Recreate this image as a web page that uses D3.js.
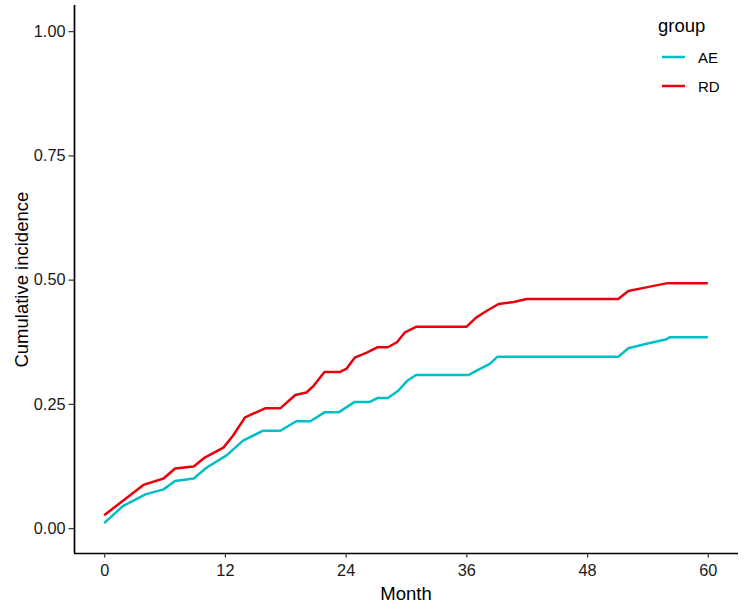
<!DOCTYPE html>
<html>
<head>
<meta charset="utf-8">
<script src="https://cdn.jsdelivr.net/npm/d3@7"></script>
<style>
body { margin: 0; background: #fff; }
svg { display: block; font-family: "Liberation Sans", Arial, sans-serif; }
</style>
</head>
<body>
<svg id="chart" width="744" height="607"></svg>
<script>
// Data
const groups = ["AE", "RD"];
const groupColors = ["#00BFC4", "#E8000B"];
const aeMonth = [0, 1.9, 4.1, 5.9, 7.05, 8.9, 10.2, 12.2, 13.8, 15.8, 17.5, 19.1, 20.5, 21.9, 23.3, 24.9, 26.4, 27.2, 28.2, 29.2, 30.1, 31.0, 36.2, 37.3, 38.3, 39.1, 51.1, 52.1, 53.9, 55.9, 56.2, 60];
const aeValue = [0.010, 0.045, 0.068, 0.078, 0.095, 0.100, 0.122, 0.147, 0.176, 0.196, 0.196, 0.215, 0.215, 0.233, 0.233, 0.254, 0.254, 0.262, 0.262, 0.276, 0.296, 0.308, 0.308, 0.320, 0.330, 0.345, 0.345, 0.362, 0.371, 0.380, 0.384, 0.384];
const rdMonth = [0, 3.9, 5.9, 7.05, 8.9, 10.0, 11.85, 12.8, 14.0, 16.0, 17.5, 19.0, 20.1, 20.8, 21.9, 23.4, 24.1, 24.9, 26.1, 27.2, 28.2, 29.1, 29.9, 31.0, 36.0, 37.0, 38.0, 39.2, 40.7, 42.0, 51.1, 52.1, 54.0, 56.0, 60];
const rdValue = [0.026, 0.087, 0.100, 0.120, 0.124, 0.142, 0.162, 0.186, 0.223, 0.241, 0.241, 0.268, 0.273, 0.286, 0.314, 0.314, 0.321, 0.343, 0.353, 0.364, 0.364, 0.374, 0.394, 0.405, 0.405, 0.424, 0.437, 0.451, 0.455, 0.461, 0.461, 0.477, 0.485, 0.493, 0.493];
const xTicks = [0, 12, 24, 36, 48, 60];
const yTicks = [0, 0.25, 0.5, 0.75, 1];
const yTickLabels = ["0.00", "0.25", "0.50", "0.75", "1.00"];

const series = [
  { name: groups[0], color: groupColors[0], pts: aeMonth.map((m, i) => [m, aeValue[i]]) },
  { name: groups[1], color: groupColors[1], pts: rdMonth.map((m, i) => [m, rdValue[i]]) }
];

const svg = d3.select("#chart");
const panel = { left: 74, right: 738, top: 5, bottom: 553 };

const x = d3.scaleLinear().domain([-3, 63]).range([panel.left, panel.right]);
const y = d3.scaleLinear().domain([-0.05, 1.05]).range([panel.bottom, panel.bottom - 1.1 * 497]);

// Axes
const xAxis = svg.append("g")
  .attr("transform", `translate(0,${panel.bottom})`)
  .call(d3.axisBottom(x).tickValues(xTicks).tickSize(4.5).tickPadding(7));
const yAxis = svg.append("g")
  .attr("transform", `translate(${panel.left},0)`)
  .call(d3.axisLeft(y).tickValues(yTicks).tickFormat((d, i) => yTickLabels[i]).tickSize(5.5).tickPadding(3));

[xAxis, yAxis].forEach(g => {
  g.select(".domain").attr("stroke", "#000").attr("stroke-width", 1.7);
  g.selectAll(".tick line").attr("stroke", "#333").attr("stroke-width", 1.2);
  g.selectAll(".tick text").attr("fill", "#1a1a1a").attr("font-size", 16.3)
    .attr("font-family", "'Liberation Sans', Arial, sans-serif");
});
xAxis.select(".domain").attr("d", `M${panel.left},0.5H${panel.right}`);
yAxis.select(".domain").attr("d", `M0.5,${panel.bottom}V${panel.top}`);

// Lines
const line = d3.line().x(d => x(d[0])).y(d => y(d[1])).curve(d3.curveLinear);
svg.append("g").selectAll("path")
  .data(series)
  .join("path")
  .attr("d", d => line(d.pts))
  .attr("fill", "none")
  .attr("stroke", d => d.color)
  .attr("stroke-width", 2.5)
  .attr("stroke-linejoin", "round");

// Axis titles
svg.append("text")
  .attr("x", (panel.left + panel.right) / 2)
  .attr("y", 600)
  .attr("text-anchor", "middle")
  .attr("font-size", 18.5)
  .attr("fill", "#000")
  .text("Month");
svg.append("text")
  .attr("transform", `translate(28,${y(0.5)}) rotate(-90)`)
  .attr("text-anchor", "middle")
  .attr("font-size", 18.5)
  .attr("fill", "#000")
  .text("Cumulative incidence");

// Legend
const legend = svg.append("g");
legend.append("text")
  .attr("x", 658).attr("y", 32)
  .attr("font-size", 18.5).attr("fill", "#000")
  .text("group");
const items = legend.selectAll("g.item")
  .data(series)
  .join("g")
  .attr("class", "item")
  .attr("transform", (d, i) => `translate(0,${57 + i * 29})`);
items.append("line")
  .attr("x1", 662).attr("x2", 685)
  .attr("stroke", d => d.color).attr("stroke-width", 2.5);
items.append("text")
  .attr("x", 698).attr("y", 6)
  .attr("font-size", 15).attr("fill", "#000")
  .text(d => d.name);
</script>
</body>
</html>
